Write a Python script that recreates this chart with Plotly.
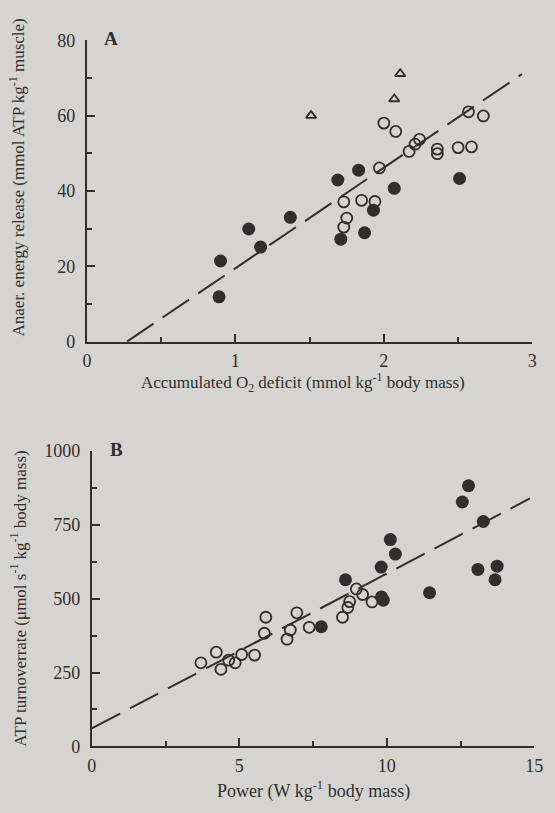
import plotly.graph_objects as go

# Panel A: accumulated O2 deficit vs anaerobic energy release
a_filled_x = [0.90, 0.89, 1.09, 1.17, 1.37, 1.71, 1.69, 1.83, 1.87, 1.93, 2.07, 2.51]
a_filled_y = [21.4, 11.9, 29.9, 25.1, 33.0, 27.2, 42.9, 45.5, 28.9, 34.9, 40.7, 43.3]
a_open_x = [1.73, 1.75, 1.73, 1.85, 1.94, 1.97, 2.00, 2.08, 2.17, 2.21, 2.24,
            2.36, 2.36, 2.50, 2.59, 2.57, 2.67]
a_open_y = [37.1, 32.8, 30.4, 37.5, 37.2, 46.1, 58.0, 55.8, 50.5, 52.4, 53.7,
            51.1, 49.9, 51.5, 51.7, 61.0, 59.9]
a_tri_x = [1.51, 2.07, 2.11]
a_tri_y = [60.0, 64.4, 71.1]
a_fit_x = [0.27, 2.93]
a_fit_y = [0.0, 71.0]

# Panel B: power vs ATP turnover rate
b_filled_x = [7.78, 8.60, 9.81, 9.82, 9.88, 10.12, 10.29, 11.45, 12.56, 12.77,
              13.27, 13.09, 13.74, 13.67]
b_filled_y = [405, 564, 607, 506, 495, 700, 651, 520, 827, 882, 761, 599, 610, 564]
b_open_x = [3.70, 4.22, 4.38, 4.64, 4.86, 5.08, 5.52, 5.85, 5.90, 6.62, 6.73,
            6.95, 7.37, 8.50, 8.68, 8.74, 8.97, 9.18, 9.50]
b_open_y = [283, 319, 261, 292, 283, 311, 309, 383, 437, 363, 394,
            452, 403, 437, 470, 490, 533, 514, 489]
b_fit_x = [0.0, 14.85]
b_fit_y = [61, 839]

a_xticks = [0, 1, 2, 3]
a_yticks = [0, 20, 40, 60, 80]
b_xticks = [0, 5, 10, 15]
b_yticks = [0, 250, 500, 750, 1000]

BG = "rgb(214,212,209)"
INK = "rgb(48,46,46)"
FONT = "Liberation Serif"

fig = go.Figure()

def add_panel(xa, ya, fit_x, fit_y, filled, opened, tri=None):
    fig.add_trace(go.Scatter(x=fit_x, y=fit_y, mode="lines", xaxis=xa, yaxis=ya,
                             line=dict(color=INK, width=2, dash="32px,11px"),
                             showlegend=False, hoverinfo="skip"))
    fig.add_trace(go.Scatter(x=opened[0], y=opened[1], mode="markers", xaxis=xa, yaxis=ya,
                             marker=dict(symbol="circle-open", size=11, color=INK,
                                         line=dict(width=1.8, color=INK)),
                             showlegend=False))
    fig.add_trace(go.Scatter(x=filled[0], y=filled[1], mode="markers", xaxis=xa, yaxis=ya,
                             marker=dict(symbol="circle", size=13, color=INK),
                             showlegend=False))
    if tri is not None:
        fig.add_trace(go.Scatter(x=tri[0], y=tri[1], mode="markers", xaxis=xa, yaxis=ya,
                                 marker=dict(symbol="triangle-up-open", size=9, color=INK,
                                             line=dict(width=1.8, color=INK)),
                                 showlegend=False))

add_panel("x", "y", a_fit_x, a_fit_y, (a_filled_x, a_filled_y), (a_open_x, a_open_y),
          (a_tri_x, a_tri_y))
add_panel("x2", "y2", b_fit_x, b_fit_y, (b_filled_x, b_filled_y), (b_open_x, b_open_y))

def axis(domain, rng, tickvals, minor_dtick, anchor, standoff):
    return dict(domain=domain, range=rng, anchor=anchor, tickvals=tickvals,
                showgrid=False, zeroline=False, showline=True, linecolor=INK, linewidth=2,
                ticks="inside", ticklen=8, tickwidth=1.5, tickcolor=INK,
                minor=dict(dtick=minor_dtick, ticks="inside", ticklen=5, tickwidth=1.5,
                           tickcolor=INK, showgrid=False),
                tickfont=dict(family=FONT, size=18, color=INK),
                ticklabelstandoff=standoff, fixedrange=True)

H = 813.0
fig.update_layout(
    width=555, height=813,
    margin=dict(l=0, r=0, t=0, b=0),
    paper_bgcolor=BG, plot_bgcolor=BG,
    font=dict(family=FONT, color=INK),
    xaxis=axis([84 / 555, 541 / 555], [0, 3], a_xticks, 0.5, "y", 2),
    yaxis=axis([1 - 340 / H, 1 - 31 / H], [0, 80], a_yticks, 10, "x", 6),
    xaxis2=axis([89 / 555, 543 / 555], [0, 15], b_xticks, 2.5, "y2", 2),
    yaxis2=axis([1 - 755 / H, 1 - 452 / H], [0, 1000], b_yticks, 125, "x2", 6),
)

annotations = [
    dict(text="<b>A</b>", x=99 / 555, y=1 - 29 / H, xanchor="left", yanchor="middle",
         font=dict(size=19)),
    dict(text="<b>B</b>", x=106 / 555, y=1 - 451 / H, xanchor="left", yanchor="middle",
         font=dict(size=19)),
    dict(text="Accumulated O<sub>2</sub> deficit (mmol kg<sup>-1</sup> body mass)",
         x=306 / 555, y=1 - 382 / H, xanchor="center", yanchor="middle", font=dict(size=17)),
    dict(text="Power (W kg<sup>-1</sup> body mass)",
         x=316 / 555, y=1 - 800 / H, xanchor="center", yanchor="middle", font=dict(size=18)),
    dict(text="Anaer. energy release (mmol ATP kg<sup>-1</sup> muscle)", textangle=-90,
         x=12 / 555, y=1 - 172 / H, xanchor="center", yanchor="middle", font=dict(size=17)),
    dict(text="ATP turnoverrate (\u03bcmol s<sup>-1</sup> kg<sup>-1</sup> body mass)", textangle=-90,
         x=14 / 555, y=1 - 603 / H, xanchor="center", yanchor="middle", font=dict(size=17)),
]
for a in annotations:
    a.update(xref="paper", yref="paper", showarrow=False)
    a.setdefault("font", {})
    a["font"].update(family=FONT, color=INK)
fig.update_layout(annotations=annotations)

fig.write_html("out.html")
